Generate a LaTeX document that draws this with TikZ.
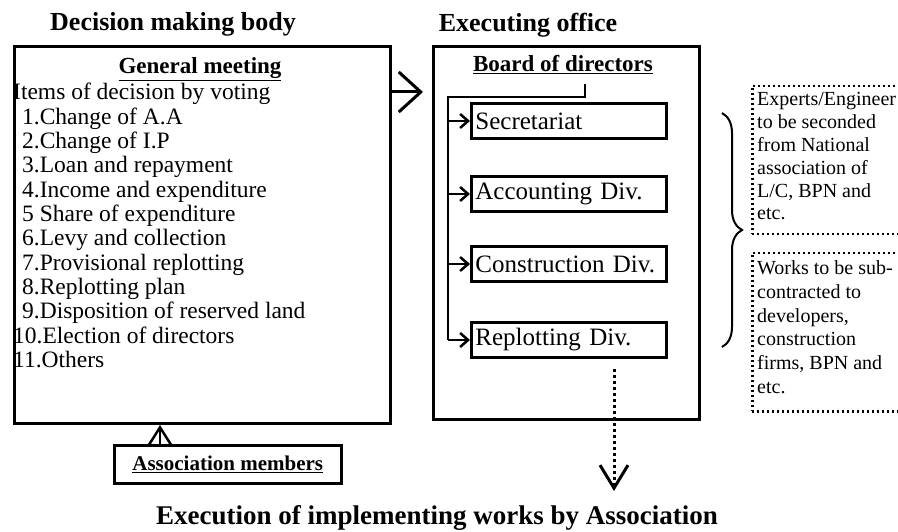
\documentclass[tikz,border=0pt]{standalone}
\usepackage{fontspec}
\setmainfont{Liberation Serif}
\usetikzlibrary{arrows.meta,decorations.pathreplacing}

\begin{document}
\begin{tikzpicture}[x=1pt,y=-1pt,
  frame/.style={draw, line width=3pt, inner sep=0pt, anchor=north west},
  title/.style={font=\fontsize{26}{28}\selectfont\bfseries, anchor=base, inner sep=0pt},
  head/.style={font=\fontsize{23}{25}\selectfont\bfseries, anchor=base, inner sep=0pt},
  listline/.style={font=\fontsize{23.5}{25}\selectfont, anchor=base west, inner sep=0pt},
  divbox/.style={draw, line width=2.8pt, minimum height=35pt, text width=187pt,
    inner xsep=4pt, inner ysep=0pt, align=left, anchor=west,
    font=\fontsize{25}{27}\selectfont},
  dotbox/.style={draw, line width=2.5pt, dash pattern=on 2pt off 3pt,
    inner sep=0pt, anchor=north west},
  note/.style={font=\fontsize{20}{22}\selectfont, anchor=base west, inner sep=0pt},
  link/.style={line width=2.5pt},
  smallarrow/.style={link, -{Straight Barb[length=8pt,width=14pt]}},
  bigarrow/.style={line width=3pt, -{Straight Barb[length=22pt,width=40pt]}},
  uparrow/.style={line width=2.5pt, -{Straight Barb[length=19pt,width=24pt]}},
  dotarrow/.style={line width=3pt, dash pattern=on 3pt off 3pt,
    -{Straight Barb[length=23pt,width=28pt]}},
]
\useasboundingbox (0,0) rectangle (898,532);
\clip (0,0) rectangle (898,532);

% section titles
\node[title] (dmb) at (173,31) {Decision making body};
\node[title] (eo) at (528,32) {Executing office};
\node[title, font=\fontsize{27}{29}\selectfont\bfseries] (exw) at (437,524)
  {Execution of implementing works by Association};

% general meeting frame and its items
\node[frame, minimum width=376pt, minimum height=377pt] (gm) at (13,45) {};
\node[head] (gmt) at (200,74) {\underline{General meeting}};
\foreach \xx/\txt [count=\i from 0] in {
  13/Items of decision by voting,
  22/1.Change of A.A,
  22/2.Change of I.P,
  22/3.Loan and repayment,
  22/4.Income and expenditure,
  22/5 Share of expenditure,
  22/6.Levy and collection,
  22/7.Provisional replotting,
  22/8.Replotting plan,
  22/9.Disposition of reserved land,
  13/10.Election of directors,
  13/11.Others}
  \node[listline] (item\i) at (\xx,100+24.3*\i) {\txt};

% association members
\node[frame, line width=2.5pt, minimum width=227pt, minimum height=38pt] (am) at (113,444) {};
\node[font=\fontsize{21}{23}\selectfont\bfseries, inner sep=0pt] (amt) at (am.center)
  {\underline{Association members}};
\draw[uparrow] (am.north -| 160,0) -- (gm.south -| 160,0);

% executing office frame
\node[frame, minimum width=266pt, minimum height=373pt] (ex) at (432,45) {};
\node[head] (board) at (563,72) {\underline{Board of directors}};
\draw[bigarrow, shorten >=9pt] (gm.east |- 0,92) -- (ex.west |- 0,92);

% divisions
\node[divbox] (sec) at (470,121) {Secretariat};
\node[divbox] (acc) at (470,194) {Accounting Div.};
\node[divbox] (con) at (470,264) {Construction Div.};
\node[divbox] (rep) at (470,340) {Replotting Div.};

\coordinate (bd) at (585,84);
\coordinate (trunk) at (448,97);
\draw[link] (bd) |- (trunk) -- (trunk |- rep.west);
\foreach \d in {sec,acc,con,rep}
  \draw[smallarrow] (trunk |- \d.west) -- (\d.west);

\draw[dotarrow, shorten <=10pt] (rep.south -| 614,0) -- (614,491);

% outside resources
\draw[line width=2pt, decorate, decoration={brace, amplitude=20pt}] (722,113) -- (722,347);

\node[dotbox, minimum width=170pt, minimum height=148pt] (exp) at (751,85) {};
\foreach \txt [count=\i from 0] in {Experts/Engineer, to be seconded, from National,
  association of, {L/C, BPN and}, etc.}
  \node[note] (expl\i) at (757,106+22.8*\i) {\txt};

\node[dotbox, minimum width=170pt, minimum height=158pt] (sub) at (751,252) {};
\foreach \txt [count=\i from 0] in {Works to be sub-, contracted to, {developers,},
  construction, {firms, BPN and}, etc.}
  \node[note] (subl\i) at (757,275+23.6*\i) {\txt};
\end{tikzpicture}
\end{document}
